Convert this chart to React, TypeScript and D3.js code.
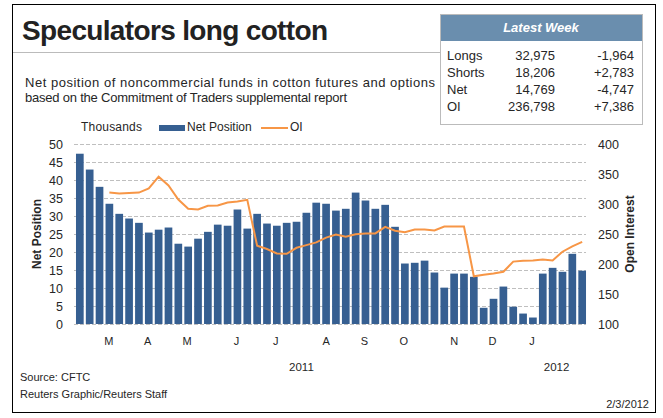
import React from "react";
import * as d3 from "d3";

const netPosition: number[] = [
  47.3, 42.9, 38.1, 33.4, 30.6, 29.3, 28.1, 25.4, 26.2, 26.8, 22.3, 21.5, 23.7,
  25.6, 27.6, 27.3, 31.8, 26.5, 30.6, 27.9, 27.3, 28.1, 28.4, 30.9, 33.7, 33.4,
  31.5, 32.0, 36.5, 34.3, 32.0, 33.1, 27.0, 16.8, 17.0, 17.6, 14.3, 10.1, 14.0,
  14.0, 13.1, 4.5, 7.0, 10.4, 4.8, 2.9, 1.8, 14.0, 15.6, 14.5, 19.5, 14.8,
];

const openInterest: (number | null)[] = [
  null, null, null, 319, 317.5, 318.5, 319, 326, 345.5, 331, 307.5, 292, 291,
  297, 297.5, 302.5, 304, 307, 230.5, 225, 217.5, 217, 227, 231.5, 236, 244,
  249, 245.5, 249.5, 251, 251, 262, 255.5, 253, 257.5, 257.5, 256, 262.5, 262.5,
  262.5, 179.5, 182, 184, 187, 204, 205.5, 206, 207.5, 206, 220.5, 229.4, 236.8,
];

const leftTicks = [0, 5, 10, 15, 20, 25, 30, 35, 40, 45, 50];
const rightTicks = [100, 150, 200, 250, 300, 350, 400];

const monthLabels = ["M", "A", "M", "J", "J", "A", "S", "O", "N", "D", "J"];
const monthPos = [2.95, 6.9, 10.9, 15.9, 19.9, 25, 28.9, 32.9, 38, 41.9, 45.9];
const yearLabels = ["2011", "2012"];
const yearPos = [22.5, 48.4];

const tableRows = ["Longs", "Shorts", "Net", "OI"];
const tableValues = ["32,975", "18,206", "14,769", "236,798"];
const tableChanges = ["-1,964", "+2,783", "-4,747", "+7,386"];

const FONT = "'Liberation Sans', Arial, sans-serif";
const BAR = "#365F91";
const LINE = "#F79646";
const TXT = "#262626";

export default function App() {
  const W = 663;
  const H = 418;
  const plotLeft = 74;
  const plotRight = 586;
  const plotTop = 144;
  const plotBottom = 324;

  const idx = netPosition.map((_, i) => i);
  const x = d3
    .scaleBand<number>()
    .domain(idx)
    .range([plotLeft + 1, plotRight + 1])
    .paddingInner(0.22)
    .paddingOuter(0.1);
  const step = x.step();
  const bw = x.bandwidth();
  const xc = (i: number) => (x(0) as number) + bw / 2 + i * step;

  const yL = d3.scaleLinear().domain([0, 50]).range([plotBottom, plotTop]);
  const yR = d3.scaleLinear().domain([100, 400]).range([plotBottom, plotTop]);

  const line = d3
    .line<number | null>()
    .defined((d) => d != null)
    .x((_, i) => xc(i))
    .y((d) => yR(d as number));

  const tableX = 440;
  const tableR = 642;

  return (
    <svg
      width={W}
      height={H}
      style={{ position: "absolute", left: 0, top: 0 }}
      fontFamily={FONT}
    >
      <rect x={0} y={0} width={W} height={H} fill="#fff" />
      <rect x={12.5} y={4.5} width={643} height={408} fill="none" stroke="#000" strokeWidth={1} />

      {/* Title */}
      <text x={22} y={40} fontSize={28} fontWeight="bold" fill="#222" textLength={306}>
        Speculators long cotton
      </text>
      <line x1={13} x2={tableX} y1={52.5} y2={52.5} stroke="#bbb" strokeWidth={1} />

      {/* Table */}
      <rect x={tableX + 0.5} y={14.5} width={tableR - tableX} height={110} fill="#fff" stroke="#bbb" />
      <rect x={tableX + 1} y={15} width={tableR - tableX - 1} height={26} fill="#6A8EAE" />
      <text x={(tableX + tableR) / 2} y={32} textAnchor="middle" fill="#fff" fontSize={13} fontWeight="bold" fontStyle="italic">
        Latest Week
      </text>
      {tableRows.map((r, i) => (
        <g key={r} fontSize={13} fill={TXT}>
          <text x={447} y={60 + i * 17}>{r}</text>
          <text x={555} y={60 + i * 17} textAnchor="end">{tableValues[i]}</text>
          <text x={634} y={60 + i * 17} textAnchor="end">{tableChanges[i]}</text>
        </g>
      ))}

      {/* Subtitle */}
      <text x={25} y={87} fontSize={13} fill={TXT} textLength={410}>
        Net position of noncommercial funds in cotton futures and options
      </text>
      <text x={25} y={102} fontSize={13} fill={TXT} textLength={322}>
        based on the Commitment of Traders supplemental report
      </text>

      {/* Legend */}
      <text x={81} y={131} fontSize={12} fill={TXT} textLength={61}>Thousands</text>
      <rect x={159} y={125} width={26} height={6} fill={BAR} />
      <text x={187} y={131} fontSize={12} fill={TXT}>Net Position</text>
      <line x1={261} x2={288} y1={128} y2={128} stroke={LINE} strokeWidth={2} />
      <text x={290} y={131} fontSize={12} fill={TXT}>OI</text>

      {/* Gridlines */}
      {leftTicks.map((t) => (
        <line
          key={t}
          x1={plotLeft}
          x2={plotRight}
          y1={Math.round(yL(t)) + 0.5}
          y2={Math.round(yL(t)) + 0.5}
          stroke="#BFBFBF"
          strokeDasharray="4,2"
        />
      ))}

      {/* Bars */}
      {netPosition.map((v, i) => (
        <rect key={i} x={x(i)} y={yL(v)} width={bw} height={yL(0) - yL(v)} fill={BAR} />
      ))}

      {/* OI line */}
      <path d={line(openInterest) || ""} fill="none" stroke={LINE} strokeWidth={2} />

      {/* Left axis */}
      {leftTicks.map((t) => (
        <text key={t} x={63} y={yL(t) + 4.5} textAnchor="end" fontSize={12.5} fill={TXT}>
          {t}
        </text>
      ))}
      <text
        transform={`translate(41,${(plotTop + plotBottom) / 2}) rotate(-90)`}
        textAnchor="middle"
        fontSize={12}
        fontWeight="bold"
        fill={TXT}
      >
        Net Position
      </text>

      {/* Right axis */}
      {rightTicks.map((t) => (
        <text key={t} x={598} y={yR(t) + 4.5} fontSize={12.5} fill={TXT}>
          {t}
        </text>
      ))}
      <text
        transform={`translate(634,${(plotTop + plotBottom) / 2}) rotate(-90)`}
        textAnchor="middle"
        fontSize={12}
        fontWeight="bold"
        fill={TXT}
      >
        Open Interest
      </text>

      {/* X labels */}
      {monthLabels.map((m, i) => (
        <text key={i} x={xc(monthPos[i])} y={345} textAnchor="middle" fontSize={11} fill={TXT}>
          {m}
        </text>
      ))}
      {yearLabels.map((yl, i) => (
        <text key={yl} x={xc(yearPos[i])} y={371} textAnchor="middle" fontSize={11.5} fill={TXT}>
          {yl}
        </text>
      ))}

      {/* Footer */}
      <text x={20} y={381} fontSize={11} fill={TXT}>Source: CFTC</text>
      <text x={20} y={398} fontSize={11} fill={TXT}>Reuters Graphic/Reuters Staff</text>
      <text x={649} y={408} fontSize={11} textAnchor="end" fill={TXT}>2/3/2012</text>
    </svg>
  );
}
